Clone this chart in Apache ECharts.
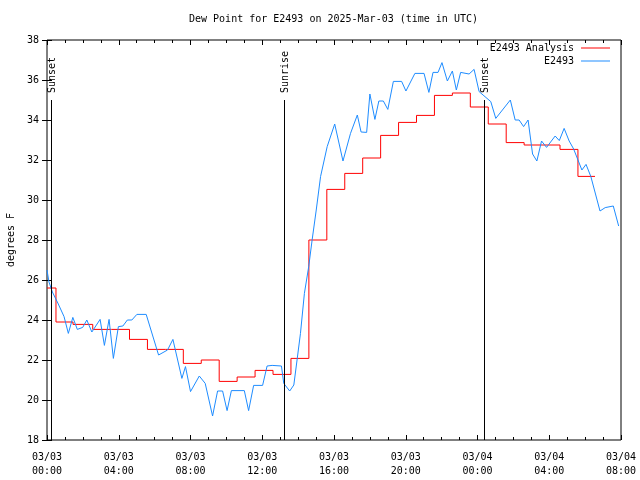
<!DOCTYPE html>
<html>
<head>
<meta charset="utf-8">
<script src="https://cdn.jsdelivr.net/npm/echarts@6/dist/echarts.min.js"></script>
<style>html,body{margin:0;padding:0;background:#fff}#c{width:640px;height:480px}</style>
</head>
<body>
<div id="c"></div>
<script>
// Hours since 2025-03-03 00:00 UTC
const redTimes = [0, 0.5, 1.45, 2.55, 3.6, 4.6, 5.6, 6.6, 7.6, 8.6, 9.6, 10.6, 11.6, 12.6, 13.6, 14.6, 15.6, 16.6, 17.6, 18.6, 19.6, 20.6, 21.6, 22.6, 23.6, 24.6, 25.6, 26.6, 27.6, 28.6, 29.6, 30.55];
const redValues = [25.6, 23.9, 23.78, 23.53, 23.53, 23.03, 22.53, 22.53, 21.83, 22.0, 20.93, 21.15, 21.48, 21.28, 22.08, 28.0, 30.53, 31.33, 32.1, 33.23, 33.88, 34.23, 35.23, 35.35, 34.65, 33.8, 32.87, 32.75, 32.75, 32.53, 31.18, 31.18];

const blueTimes = [0.0, 0.11, 0.30, 0.63, 0.95, 1.19, 1.44, 1.69, 1.99, 2.22, 2.50, 2.96, 3.20, 3.46, 3.70, 3.98, 4.23, 4.48, 4.73, 5.01, 5.53, 6.22, 6.72, 7.02, 7.52, 7.72, 8.00, 8.49, 8.82, 9.23, 9.51, 9.79, 10.04, 10.28, 11.0, 11.24, 11.52, 12.02, 12.27, 12.55, 13.07, 13.20, 13.53, 13.76, 13.94, 14.13, 14.35, 14.59, 14.78, 15.01, 15.25, 15.62, 16.04, 16.50, 16.92, 17.30, 17.51, 17.82, 18.0, 18.28, 18.50, 18.75, 19.0, 19.31, 19.77, 20.01, 20.51, 21.02, 21.29, 21.52, 21.80, 22.02, 22.32, 22.60, 22.82, 23.06, 23.53, 23.81, 24.09, 24.31, 24.74, 25.02, 25.83, 26.10, 26.32, 26.57, 26.82, 27.07, 27.31, 27.57, 27.85, 28.33, 28.56, 28.83, 29.11, 29.36, 29.82, 30.05, 30.32, 30.83, 31.12, 31.57, 31.87];
const blueValues = [26.5, 25.9, 25.4, 24.8, 24.17, 23.33, 24.13, 23.53, 23.63, 24.0, 23.4, 24.03, 22.73, 24.03, 22.08, 23.67, 23.7, 24.0, 24.0, 24.28, 24.28, 22.25, 22.5, 23.03, 21.08, 21.67, 20.42, 21.2, 20.83, 19.2, 20.45, 20.45, 19.47, 20.47, 20.47, 19.47, 20.73, 20.73, 21.7, 21.73, 21.7, 20.83, 20.45, 20.75, 22.0, 23.33, 25.33, 26.67, 28.0, 29.5, 31.17, 32.67, 33.8, 31.95, 33.33, 34.25, 33.4, 33.38, 35.3, 34.03, 34.95, 34.95, 34.53, 35.93, 35.93, 35.45, 36.33, 36.33, 35.38, 36.38, 36.38, 36.87, 35.95, 36.45, 35.5, 36.38, 36.3, 36.53, 35.42, 35.25, 34.92, 34.08, 35.0, 34.0, 34.0, 33.67, 34.0, 32.3, 31.95, 32.95, 32.63, 33.2, 32.97, 33.58, 32.95, 32.55, 31.5, 31.78, 31.17, 29.45, 29.62, 29.7, 28.7];

const sunEventTimes = [0.22, 13.2, 24.37];
const sunEventNames = ['Sunset', 'Sunrise', 'Sunset'];
const sunLineTop = 35;

const yMin = 18, yMax = 38, yStep = 2;
const xMin = 0, xMax = 32, xStep = 4;

const FONT = 'DejaVu Sans Mono';
const redData = redTimes.map((t, i) => [t, redValues[i]]);
const blueData = blueTimes.map((t, i) => [t, blueValues[i]]);

function fmtX(v) {
  const day = 3 + Math.floor(v / 24);
  const hr = Math.round(v % 24);
  return '03/' + String(day).padStart(2, '0') + '\n' + String(hr).padStart(2, '0') + ':00';
}

const chart = echarts.init(document.getElementById('c'), null, {renderer: 'canvas'});
const axisText = {color: '#000', fontFamily: FONT, fontSize: 10};
const legendCommon = {
  right: 30, orient: 'vertical', align: 'right', icon: 'rect',
  itemWidth: 29, itemHeight: 1, padding: 0, selectedMode: false,
  textStyle: {color: '#000', fontFamily: FONT, fontSize: 10, padding: [0, 2, 0, 0]}
};
const option = {
  animation: false,
  backgroundColor: '#fff',
  title: {
    text: 'Dew Point for E2493 on 2025-Mar-03 (time in UTC)',
    left: 189, top: 14,
    padding: 0,
    textStyle: {color: '#000', fontFamily: FONT, fontSize: 10, fontWeight: 'normal'}
  },
  legend: [
    Object.assign({data: ['E2493 Analysis'], top: 43}, legendCommon),
    Object.assign({data: ['E2493'], top: 56}, legendCommon)
  ],
  grid: {left: 47, right: 19, top: 40, bottom: 40, show: true, borderColor: '#000', borderWidth: 1,
         backgroundColor: 'transparent', containLabel: false, outerBoundsMode: 'none'},
  xAxis: [
    {type: 'value', min: xMin, max: xMax, interval: xStep, position: 'bottom',
     axisLine: {show: false},
     axisTick: {inside: true, length: 5, lineStyle: {color: '#000'}},
     minorTick: {show: true, splitNumber: 4, length: 3, lineStyle: {color: '#000'}},
     splitLine: {show: false},
     axisLabel: Object.assign({formatter: fmtX, margin: 10, lineHeight: 14}, axisText)},
    {type: 'value', min: xMin, max: xMax, interval: xStep, position: 'top',
     axisLine: {show: false},
     axisTick: {inside: true, length: 5, lineStyle: {color: '#000'}},
     minorTick: {show: true, splitNumber: 4, length: 3, lineStyle: {color: '#000'}},
     splitLine: {show: false}, axisLabel: {show: false}}
  ],
  yAxis: [
    {type: 'value', min: yMin, max: yMax, interval: yStep, position: 'left',
     name: 'degrees F', nameLocation: 'middle', nameGap: 31, nameRotate: 90,
     nameTextStyle: {color: '#000', fontFamily: FONT, fontSize: 10},
     axisLine: {show: false},
     axisTick: {inside: true, length: 5, lineStyle: {color: '#000'}},
     splitLine: {show: false},
     axisLabel: Object.assign({margin: 8}, axisText)},
    {type: 'value', min: yMin, max: yMax, interval: yStep, position: 'right',
     axisLine: {show: false},
     axisTick: {inside: true, length: 5, lineStyle: {color: '#000'}},
     splitLine: {show: false}, axisLabel: {show: false}}
  ],
  series: [
    {name: 'E2493 Analysis', type: 'line', data: redData, step: 'end',
     symbol: 'none', color: '#ff0000', lineStyle: {color: '#ff0000', width: 1}, z: 3},
    {name: 'E2493', type: 'line', data: blueData,
     symbol: 'none', color: '#1e8cff', lineStyle: {color: '#1e8cff', width: 1}, z: 4,
     markLine: {
       silent: true, symbol: 'none', label: {show: false},
       lineStyle: {color: '#000', width: 1, type: 'solid'},
       data: sunEventTimes.map(t => [{coord: [t, sunLineTop]}, {coord: [t, yMin]}])
     }}
  ]
};
chart.setOption(option);

const graphics = sunEventTimes.map((t, i) => {
  const p = chart.convertToPixel({xAxisIndex: 0, yAxisIndex: 0}, [t, sunLineTop]);
  return {
    type: 'text', x: Math.round(p[0]) + 1, y: p[1] - 7, rotation: Math.PI / 2, z: 10,
    style: {text: sunEventNames[i], fill: '#000', font: '10px "' + FONT + '"', align: 'left', verticalAlign: 'middle'}
  };
});
chart.setOption({graphic: graphics});
</script>
</body>
</html>
